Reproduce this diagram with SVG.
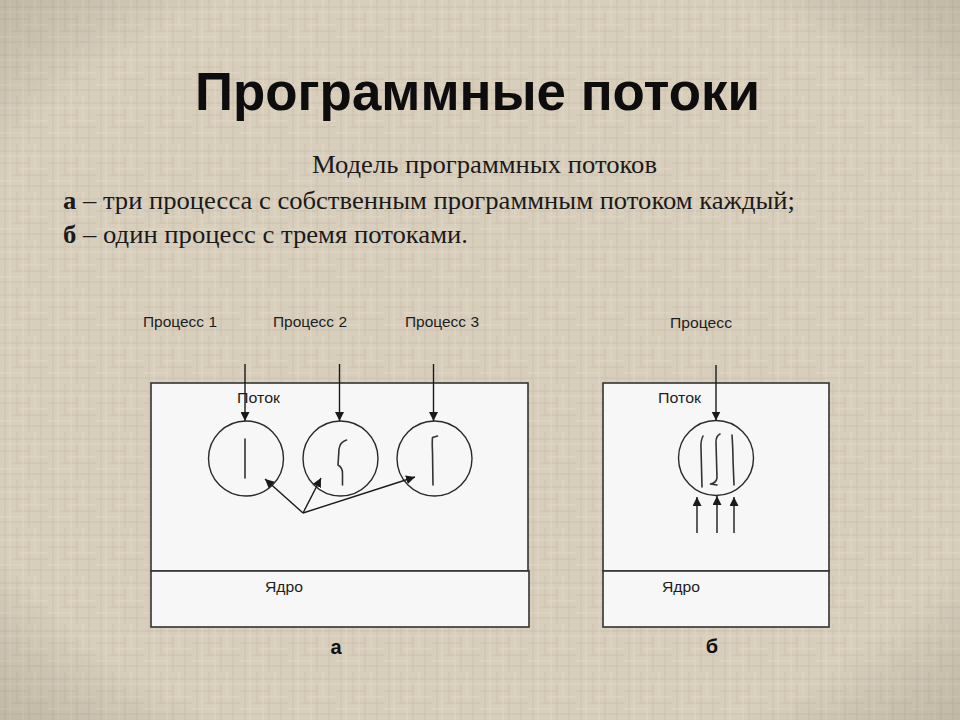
<svg xmlns="http://www.w3.org/2000/svg" width="960" height="720" viewBox="0 0 960 720">
<defs>
  <style>
    .box{fill:#f7f7f7;stroke:#333;stroke-width:1.6}
    .circ{fill:#f7f7f7;stroke:#2a2a2a;stroke-width:1.4}
    .thr{fill:none;stroke:#333;stroke-width:1.6;stroke-linecap:round;stroke-linejoin:round}
    .con{fill:none;stroke:#1a1a1a;stroke-width:1.4}
    .lbl{font-family:"Liberation Sans",Arial,sans-serif;font-size:14px;fill:#1e1e1e}
    .ser{font-family:"Liberation Serif","Times New Roman",serif;font-size:26px;fill:#1a1a1a}
    .ttl{font-family:"Liberation Sans",Arial,sans-serif;font-size:53px;font-weight:bold;fill:#0d0d0d}
    .cap{font-family:"Liberation Sans",Arial,sans-serif;font-size:20px;font-weight:bold;fill:#111}
  </style>
  <marker id="ah" viewBox="0 0 10 10" refX="10" refY="5" markerWidth="9" markerHeight="9" markerUnits="userSpaceOnUse" orient="auto">
    <path d="M0,0 L10,5 L0,10 z" fill="#1a1a1a"/>
  </marker>
  <pattern id="tex" width="48" height="48" patternUnits="userSpaceOnUse">
    <rect width="48" height="48" fill="#d8cebc"/>
    <path d="M0 7H48M0 19H30M12 31H48M0 42H48M5 0V48M17 0V30M29 10V48M41 0V48" stroke="#c7bca7" stroke-width="1" opacity="0.7"/>
    <path d="M0 12H48M20 25H48M0 37H26M10 0V48M23 0V48M35 0V28" stroke="#e3dac9" stroke-width="1" opacity="0.7"/>
  </pattern>
  <radialGradient id="vig" cx="50%" cy="50%" r="75%">
    <stop offset="75%" stop-color="#000" stop-opacity="0"/>
    <stop offset="100%" stop-color="#4a3a20" stop-opacity="0.18"/>
  </radialGradient>
</defs>

<rect width="960" height="720" fill="url(#tex)"/>
<rect width="960" height="720" fill="url(#vig)"/>

<text class="ttl" x="195" y="110" textLength="565" lengthAdjust="spacingAndGlyphs">Программные потоки</text>

<text class="ser" x="312" y="173" textLength="345" lengthAdjust="spacingAndGlyphs">Модель программных потоков</text>
<text class="ser" x="63" y="209" textLength="732" lengthAdjust="spacingAndGlyphs"><tspan font-weight="bold">а</tspan> – три процесса с собственным программным потоком каждый;</text>
<text class="ser" x="63" y="243" textLength="405" lengthAdjust="spacingAndGlyphs"><tspan font-weight="bold">б</tspan> – один процесс с тремя потоками.</text>

<!-- Diagram a -->
<g id="box-a">
  <rect class="box" x="151" y="383" width="377" height="188"/>
  <text class="lbl" x="237" y="403" textLength="43" lengthAdjust="spacingAndGlyphs">Поток</text>
</g>
<g id="kernel-a">
  <rect class="box" x="151" y="571" width="378" height="56"/>
  <text class="lbl" x="265" y="592" textLength="38" lengthAdjust="spacingAndGlyphs">Ядро</text>
</g>
<g id="proc1">
  <text class="lbl" x="143" y="327" textLength="74" lengthAdjust="spacingAndGlyphs">Процесс 1</text>
</g>
<g id="proc2">
  <text class="lbl" x="273" y="327" textLength="74" lengthAdjust="spacingAndGlyphs">Процесс 2</text>
</g>
<g id="proc3">
  <text class="lbl" x="405" y="327" textLength="74" lengthAdjust="spacingAndGlyphs">Процесс 3</text>
</g>
<g id="thread1">
  <circle class="circ" cx="246" cy="458.5" r="37.5"/>
  <path class="thr" d="M245,439 L245,478"/>
</g>
<g id="thread2">
  <circle class="circ" cx="340.5" cy="458.5" r="37.5"/>
  <path class="thr" d="M346.5,440 Q340,442 339,449 L338,465 Q343,468 342.5,474 L342.5,485"/>
</g>
<g id="thread3">
  <circle class="circ" cx="434.5" cy="458.5" r="37.5"/>
  <path class="thr" d="M437.5,436 L432.5,437.5 Q432,442 432.5,452 L433,485"/>
</g>
<text class="cap" x="336" y="654" text-anchor="middle">а</text>

<!-- Diagram b -->
<g id="box-b">
  <rect class="box" x="603" y="383" width="226" height="188"/>
  <text class="lbl" x="658" y="403" textLength="43" lengthAdjust="spacingAndGlyphs">Поток</text>
</g>
<g id="kernel-b">
  <rect class="box" x="603" y="571" width="226" height="56"/>
  <text class="lbl" x="662" y="592" textLength="38" lengthAdjust="spacingAndGlyphs">Ядро</text>
</g>
<g id="proc">
  <text class="lbl" x="670" y="328" textLength="62" lengthAdjust="spacingAndGlyphs">Процесс</text>
</g>
<g id="threads">
  <circle class="circ" cx="716" cy="458" r="37.5"/>
  <path class="thr" d="M703,436 Q700.5,441 701,448 L702,487"/>
  <path class="thr" d="M720,434 Q716,436 716,442 L717,478 Q716,483 710.5,484 L717,485"/>
  <path class="thr" d="M732,435 Q733,450 733,460 L734,485"/>
</g>
<text class="cap" x="712" y="653" text-anchor="middle">б</text>

<g id="connectors">
  <line class="con" x1="245" y1="364" x2="245" y2="421" marker-end="url(#ah)"/>
  <line class="con" x1="339.5" y1="364" x2="339.5" y2="421" marker-end="url(#ah)"/>
  <line class="con" x1="433.5" y1="364" x2="433.5" y2="421" marker-end="url(#ah)"/>
  <line class="con" x1="303" y1="513" x2="265" y2="479" marker-end="url(#ah)"/>
  <line class="con" x1="303" y1="513" x2="321" y2="478" marker-end="url(#ah)"/>
  <line class="con" x1="303" y1="513" x2="415" y2="477" marker-end="url(#ah)"/>
  <line class="con" x1="716" y1="365" x2="716" y2="420.5" marker-end="url(#ah)"/>
  <line class="con" x1="697" y1="533" x2="697" y2="497" marker-end="url(#ah)"/>
  <line class="con" x1="717" y1="533" x2="717" y2="496" marker-end="url(#ah)"/>
  <line class="con" x1="734" y1="533" x2="734" y2="497" marker-end="url(#ah)"/>
</g>
</svg>
